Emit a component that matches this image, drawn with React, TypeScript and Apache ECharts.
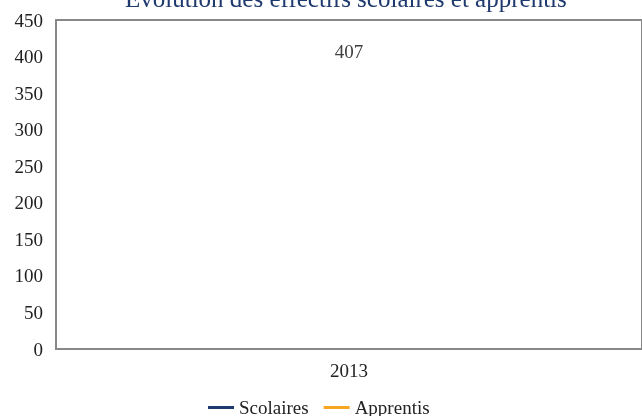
import React, { useEffect, useRef } from "react";
import * as echarts from "echarts";

const categories = ["2013"];
const scolaires = [407];
const apprentis: (number | string)[] = ["-"];
const yTicks = { min: 0, max: 450, interval: 50 };

const FONT = "'Liberation Serif', 'DejaVu Serif', serif";

export default function App() {
  const ref = useRef<HTMLDivElement>(null);
  useEffect(() => {
    const chart = echarts.init(ref.current!, null, { renderer: "svg" });
    chart.setOption({
      animation: false,
      textStyle: { fontFamily: FONT },
      title: {
        text: "Évolution des effectifs scolaires et apprentis",
        left: 125,
        top: -14,
        padding: 0,
        textStyle: { fontFamily: FONT, fontSize: 25, fontWeight: "normal", color: "#1F3A6E" },
      },
      legend: {
        top: 393,
        left: 203,
        itemWidth: 26,
        itemHeight: 3,
        itemGap: 15,
        icon: "rect",
        textStyle: { fontFamily: FONT, fontSize: 19, color: "#222" },
        data: [
          { name: "Scolaires", itemStyle: { color: "#1F3A6E", opacity: 1 } },
          { name: "Apprentis", itemStyle: { color: "#F5A623", opacity: 1 } },
        ],
      },
      grid: { left: 56, right: -2, top: 20, bottom: 67, show: true, borderColor: "#888", borderWidth: 2, containLabel: false },
      xAxis: {
        type: "category",
        data: categories,
        axisTick: { show: false },
        axisLine: { lineStyle: { color: "#888", width: 2 } },
        axisLabel: { fontFamily: FONT, fontSize: 19, color: "#222", margin: 12 },
      },
      yAxis: {
        type: "value",
        min: yTicks.min,
        max: yTicks.max,
        interval: yTicks.interval,
        splitLine: { show: false },
        axisTick: { show: false },
        axisLine: { show: true, lineStyle: { color: "#888", width: 2 } },
        axisLabel: { fontFamily: FONT, fontSize: 19, color: "#222", margin: 13 },
      },
      series: [
        {
          name: "Scolaires",
          type: "line",
          data: scolaires,
          color: "#1F3A6E",
          showSymbol: true,
          symbol: "circle",
          symbolSize: 0.1,
          lineStyle: { width: 3 },
          label: { show: true, position: "inside", fontFamily: FONT, fontSize: 19, color: "#404040" },
        },
        {
          name: "Apprentis",
          type: "line",
          data: apprentis,
          color: "#F5A623",
          showSymbol: false,
          lineStyle: { width: 3 },
        },
      ],
    });
    return () => chart.dispose();
  }, []);
  return <div ref={ref} style={{ position: "fixed", left: 0, top: 0, width: 642, height: 416 }} />;
}
